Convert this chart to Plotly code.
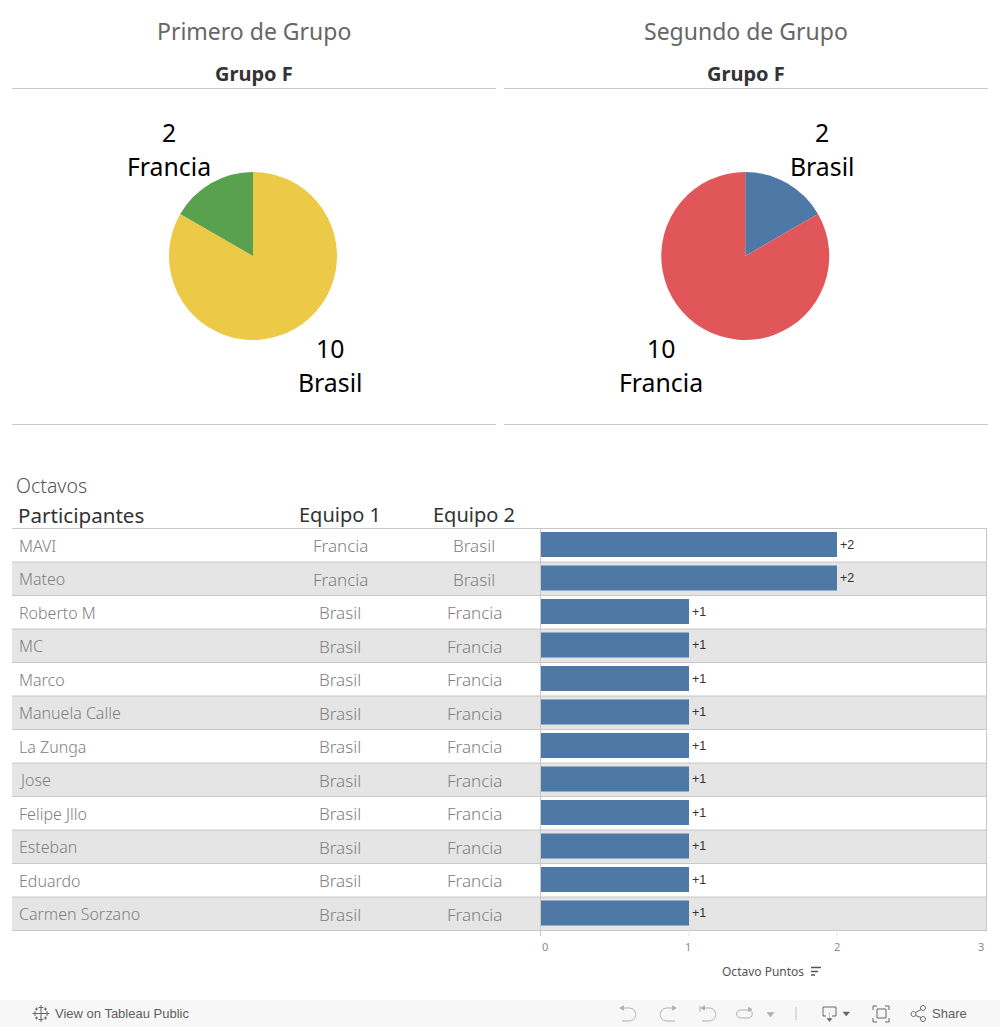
import plotly.graph_objects as go

W, H = 1000, 1027

# ---- data ----
participants = ["MAVI", "Mateo", "Roberto M", "MC", "Marco", "Manuela Calle", "La Zunga",
                "Jose", "Felipe Jllo", "Esteban", "Eduardo", "Carmen Sorzano"]
equipo1 = ["Francia", "Francia"] + ["Brasil"] * 10
equipo2 = ["Brasil", "Brasil"] + ["Francia"] * 10
puntos = [2, 2, 1, 1, 1, 1, 1, 1, 1, 1, 1, 1]
primero_labels = ["Brasil", "Francia"]
primero_values = [10, 2]
segundo_labels = ["Brasil", "Francia"]
segundo_values = [2, 10]
axis_ticks = [0, 1, 2, 3]

FONT = "Noto Sans"
GRID = "#c8c8c8"


def px(x):
    return x / W


def py(y):
    return 1 - y / H


fig = go.Figure()

fig.add_trace(go.Pie(labels=primero_labels, values=primero_values, sort=False, direction="clockwise",
                     rotation=0, marker=dict(colors=["#EDC948", "#59A14F"], line=dict(width=0)),
                     textinfo="none", hoverinfo="label+value", showlegend=False,
                     domain=dict(x=[px(169), px(337)], y=[py(340), py(172)])))
fig.add_trace(go.Pie(labels=segundo_labels, values=segundo_values, sort=False, direction="clockwise",
                     rotation=0, marker=dict(colors=["#4E79A7", "#E15759"], line=dict(width=0)),
                     textinfo="none", hoverinfo="label+value", showlegend=False,
                     domain=dict(x=[px(661), px(829.5)], y=[py(340), py(172)])))

fig.add_trace(go.Bar(x=puntos, y=participants, orientation="h", marker=dict(color="#4E79A7", line=dict(width=0)),
                     width=0.745, text=[f"+{v}" for v in puntos], textposition="outside", cliponaxis=False,
                     textfont=dict(size=12.5, color="#333333", family="Liberation Sans"),
                     hoverinfo="x+y", showlegend=False, xaxis="x", yaxis="y"))

shapes = []
annotations = []


def line(x0, y0, x1, y1, color=GRID, width=1):
    shapes.append(dict(type="line", xref="paper", yref="paper", x0=px(x0), x1=px(x1), y0=py(y0), y1=py(y1),
                       line=dict(color=color, width=width), layer="above"))


def label(x, y, text, size, color, anchor="center", family=FONT, bold=False, weight=None):
    f = dict(size=size, color=color, family=family)
    if weight:
        f["weight"] = weight
    annotations.append(dict(xref="paper", yref="paper", x=px(x), y=py(y), text=f"<b>{text}</b>" if bold else text,
                            showarrow=False, xanchor=anchor, yanchor="middle",
                            font=f, borderpad=0, borderwidth=0))


# header texts
label(253.5, 31, "Primero de Grupo", 23, "#666666")
label(745.5, 31, "Segundo de Grupo", 23, "#666666")
label(253.5, 73.5, "Grupo F", 20, "#333333", bold=True)
label(745.5, 73.5, "Grupo F", 20, "#333333", bold=True)
for a, b in [(12, 496), (504, 988)]:
    line(a, 88.5, b, 88.5)
    line(a, 424.5, b, 424.5)

# pie labels
for x, y, t in [(168.5, 132, str(primero_values[1])), (168.5, 166, primero_labels[1]),
                (329.5, 348, str(primero_values[0])), (329.5, 382, primero_labels[0]),
                (822, 132, str(segundo_values[0])), (822, 166, segundo_labels[0]),
                (660.5, 348, str(segundo_values[1])), (660.5, 382, segundo_labels[1])]:
    label(x, y, t, 24.8, "#000000")

# table header
label(16, 485.5, "Octavos", 19.5, "#555555", anchor="left", weight=300)
label(18, 514.5, "Participantes", 20.6, "#333333", anchor="left")
label(340, 514.5, "Equipo 1", 20, "#333333")
label(474, 514.5, "Equipo 2", 20, "#333333")

# table rows
TOP, BOT = 528.5, 930.5
n = len(participants)
rh = (BOT - TOP) / n
for i in range(n):
    y0 = TOP + i * rh
    if i % 2 == 1:
        shapes.append(dict(type="rect", xref="paper", yref="paper", x0=px(12), x1=px(987), y0=py(y0), y1=py(y0 + rh),
                           fillcolor="#e5e5e5", line=dict(width=0), layer="below"))
    line(12, y0, 987, y0)
    for txt, anc, xx, fs in [(participants[i], "left", 16.5, 16), (equipo1[i], "center", 340, 17),
                             (equipo2[i], "center", 474, 17)]:
        annotations.append(dict(xref="paper", yref="y", x=px(xx), y=participants[i], text=txt, showarrow=False,
                                xanchor=anc, yanchor="middle", yshift=-1,
                                font=dict(size=fs, color="#808080", family=FONT, weight=300)))
line(12, BOT, 987, BOT)
line(986.5, TOP, 986.5, BOT)
line(540.5, TOP, 540.5, 936)
for xx in (689, 837):
    line(xx, BOT, xx, 936, color="#e6e6e6")

# axis tick labels (nudged the way the original places them)
for t, dx in zip(axis_ticks, [3.5, -1, 0, -4]):
    annotations.append(dict(xref="x", yref="paper", x=t, y=py(946.5), text=str(t), showarrow=False, xshift=dx,
                            xanchor="center", yanchor="middle", font=dict(size=11, color="#8a8a8a", family=FONT)))
label(763, 971.5, "Octavo Puntos", 12, "#555555")
for (a, b, yy) in [(811, 821, 967.5), (811, 818, 971.5), (811, 815, 975)]:
    line(a, yy, b, yy, color="#555555", width=1.5)

# toolbar
shapes.append(dict(type="rect", xref="paper", yref="paper", x0=0, x1=1, y0=py(1027), y1=py(1000),
                   fillcolor="#f7f7f7", line=dict(width=0), layer="below"))
label(55, 1013, "View on Tableau Public", 13, "#606060", anchor="left", family="Liberation Sans")
label(932, 1013, "Share", 13, "#606060", anchor="left", family="Liberation Sans")


def path(d, color="#666666", width=1, fill=None):
    """d: list of ('M'|'L'|'C'|'Z', pixel coordinates...)"""
    out = []
    for seg in d:
        cmd, pts = seg[0], seg[1:]
        out.append(cmd + " ".join(f"{px(a):.5f},{py(b):.5f}" for a, b in pts))
    s = dict(type="path", xref="paper", yref="paper", path=" ".join(out), line=dict(color=color, width=width))
    if fill:
        s["fillcolor"] = fill
    shapes.append(s)


def tri(x0, x1, y0, y1, color):
    path([("M", (x0, y0)), ("L", (x1, y0)), ("L", ((x0 + x1) / 2, y1)), ("Z",)], color=color, width=0.5, fill=color)


def circle(cx, cy, r, color="#666666"):
    k = 0.55 * r
    path([("M", (cx - r, cy)),
          ("C", (cx - r, cy - k), (cx - k, cy - r), (cx, cy - r)),
          ("C", (cx + k, cy - r), (cx + r, cy - k), (cx + r, cy)),
          ("C", (cx + r, cy + k), (cx + k, cy + r), (cx, cy + r)),
          ("C", (cx - k, cy + r), (cx - r, cy + k), (cx - r, cy)), ("Z",)], color=color)


# tableau logo
for cx, cy, r in [(41, 1013.5, 4), (35, 1013.5, 2.5), (47, 1013.5, 2.5), (41, 1007.5, 2.5), (41, 1019.5, 2.5),
                  (36.5, 1009, 1.5), (45.5, 1009, 1.5), (36.5, 1018, 1.5), (45.5, 1018, 1.5)]:
    line(cx - r, cy, cx + r, cy, color="#666666")
    line(cx, cy - r, cx, cy + r, color="#666666")

# undo / redo / revert / refresh
G = "#b0b0b0"
path([("M", (623, 1008)), ("L", (629, 1008)), ("C", (638, 1008), (638, 1021), (629, 1021)), ("L", (622, 1021))], G)
path([("M", (620, 1008)), ("L", (623.5, 1006)), ("L", (623.5, 1010)), ("Z",)], G, fill=G)
path([("M", (673, 1008)), ("L", (667, 1008)), ("C", (658, 1008), (658, 1021), (667, 1021)), ("L", (675, 1021))], G)
path([("M", (676, 1008)), ("L", (672.5, 1006)), ("L", (672.5, 1010)), ("Z",)], G, fill=G)
path([("M", (704, 1008)), ("L", (709, 1008)), ("C", (718, 1008), (718, 1021), (709, 1021)), ("L", (702, 1021))], G)
path([("M", (701, 1008)), ("L", (704.5, 1006)), ("L", (704.5, 1010)), ("Z",)], G, fill=G)
line(700, 1006, 700, 1012, color=G)
path([("M", (749, 1010)), ("L", (741, 1010)), ("C", (735, 1010), (735, 1018), (741, 1018)), ("L", (748, 1018)),
      ("C", (753, 1018), (753, 1012), (751, 1011))], G)
path([("M", (752, 1009.5)), ("L", (748.5, 1007.5)), ("L", (748.5, 1011.5)), ("Z",)], G, fill=G)
tri(767, 774, 1012.5, 1017, G)
line(796, 1007, 796, 1020, color="#c0c0c0")

# download
path([("M", (826, 1016)), ("L", (823, 1016)), ("L", (823, 1007)), ("L", (836, 1007)), ("L", (836, 1016)),
      ("L", (832, 1016))])
line(829.5, 1012, 829.5, 1019)
tri(827, 832, 1018.5, 1021.5, "#666666")
tri(843, 849.5, 1012, 1016, "#666666")

# fullscreen
path([("M", (877, 1009)), ("L", (886, 1009)), ("L", (886, 1018)), ("L", (877, 1018)), ("Z",)])
path([("M", (873, 1010)), ("L", (873, 1006)), ("L", (877, 1006))])
path([("M", (885, 1006)), ("L", (889, 1006)), ("L", (889, 1010))])
path([("M", (873, 1018)), ("L", (873, 1022)), ("L", (877, 1022))])
path([("M", (885, 1022)), ("L", (889, 1022)), ("L", (889, 1018))])

# share
circle(913.5, 1014, 2.5)
circle(923, 1008, 2.5)
circle(923, 1019, 2.5)
line(915.5, 1012.5, 921, 1009.5, color="#666666")
line(915.5, 1015.5, 921, 1017.5, color="#666666")

fig.update_layout(
    width=W, height=H, autosize=False, margin=dict(l=0, r=0, t=0, b=0),
    paper_bgcolor="white", plot_bgcolor="rgba(0,0,0,0)", font=dict(family=FONT),
    shapes=shapes, annotations=annotations,
    xaxis=dict(domain=[px(541), px(985)], range=[0, 3], showgrid=False, zeroline=False, showticklabels=False,
               ticks="", showline=False, fixedrange=True),
    yaxis=dict(domain=[py(BOT - 0.7), py(TOP - 0.7)], anchor="x", autorange=False, range=[n - 0.5, -0.5],
               categoryorder="array", categoryarray=participants, showticklabels=False, ticks="", showgrid=False,
               zeroline=False, showline=False, fixedrange=True),
)
fig.write_html("out.html", config=dict(displayModeBar=False),
               post_script="document.body.style.margin='0';document.body.style.overflow='hidden';")
